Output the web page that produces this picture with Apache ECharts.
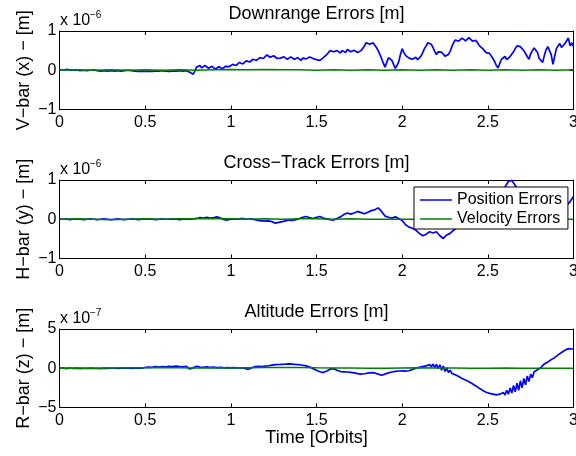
<!DOCTYPE html>
<html>
<head>
<meta charset="utf-8">
<script src="https://cdn.jsdelivr.net/npm/echarts@6/dist/echarts.min.js"></script>
<style>
  html, body { margin: 0; padding: 0; background: #ffffff; }
  #chart { width: 576px; height: 456px; }
</style>
</head>
<body>
<div id="chart"></div>
<script>
// Sampling intervals (orbits) of the stored error histories
const DOWNRANGE_STEP = 0.01;
const CROSSTRACK_STEP = 0.02;
const ALTITUDE_STEP = 0.01;
const VEL_STEP = 0.1;

// Downrange (V-bar, x) position errors, units of 1e-6 m
const downrangePos = [
  0.01, 0.00, 0.00, 0.01, 0.02, 0.00, 0.01, 0.00, 0.00, 0.01,
  0.01, 0.00, -0.01, 0.00, 0.00, -0.01, -0.01, 0.00, 0.00, 0.01,
  0.01, 0.00, -0.01, -0.02, -0.02, -0.01, -0.01, -0.02, -0.02, -0.01,
  -0.01, -0.02, -0.02, -0.01, -0.01, -0.02, -0.02, -0.01, -0.01, 0.00,
  0.00, -0.01, -0.01, -0.02, -0.02, -0.03, -0.03, -0.02, -0.02, -0.03,
  -0.03, -0.02, -0.02, -0.03, -0.03, -0.02, -0.02, -0.03, -0.02, -0.01,
  -0.01, -0.02, -0.02, -0.03, -0.03, -0.02, -0.02, -0.01, -0.02, -0.02,
  -0.01, -0.02, -0.02, -0.01, -0.01, -0.03, -0.05, -0.08, -0.10, -0.02,
  0.08, 0.13, 0.12, 0.06, 0.07, 0.12, 0.11, 0.05, 0.06, 0.10,
  0.09, 0.03, 0.04, 0.09, 0.08, 0.04, 0.06, 0.10, 0.12, 0.09,
  0.10, 0.15, 0.17, 0.12, 0.14, 0.20, 0.20, 0.16, 0.19, 0.24,
  0.26, 0.21, 0.23, 0.28, 0.29, 0.25, 0.27, 0.32, 0.33, 0.30,
  0.35, 0.39, 0.38, 0.33, 0.34, 0.37, 0.33, 0.30, 0.35, 0.31,
  0.30, 0.34, 0.33, 0.28, 0.29, 0.34, 0.33, 0.28, 0.30, 0.32,
  0.27, 0.25, 0.31, 0.33, 0.29, 0.26, 0.34, 0.32, 0.30, 0.26,
  0.27, 0.30, 0.25, 0.23, 0.32, 0.36, 0.40, 0.45, 0.50, 0.52,
  0.47, 0.43, 0.50, 0.46, 0.44, 0.50, 0.49, 0.45, 0.53, 0.51,
  0.47, 0.52, 0.51, 0.46, 0.45, 0.50, 0.50, 0.55, 0.62, 0.70,
  0.72, 0.66, 0.68, 0.70, 0.64, 0.58, 0.50, 0.40, 0.30, 0.18,
  0.08, 0.20, 0.32, 0.27, 0.25, 0.15, 0.05, 0.12, 0.22, 0.40,
  0.55, 0.45, 0.38, 0.33, 0.31, 0.35, 0.28, 0.32, 0.33, 0.27,
  0.25, 0.36, 0.45, 0.55, 0.62, 0.70, 0.74, 0.66, 0.58, 0.48,
  0.40, 0.47, 0.52, 0.46, 0.42, 0.36, 0.33, 0.40, 0.48, 0.60,
  0.70, 0.77, 0.80, 0.74, 0.76, 0.82, 0.82, 0.75, 0.78, 0.83,
  0.80, 0.74, 0.72, 0.76, 0.70, 0.63, 0.58, 0.55, 0.52, 0.45,
  0.40, 0.43, 0.36, 0.30, 0.22, 0.12, 0.06, 0.18, 0.28, 0.33,
  0.35, 0.27, 0.28, 0.35, 0.38, 0.47, 0.55, 0.62, 0.66, 0.60,
  0.58, 0.50, 0.45, 0.35, 0.28, 0.42, 0.50, 0.57, 0.62, 0.45,
  0.30, 0.25, 0.20, 0.38, 0.52, 0.60, 0.64, 0.40, 0.15, 0.35,
  0.55, 0.62, 0.68, 0.58, 0.55, 0.68, 0.75, 0.82, 0.62, 0.70,
  0.60
];
// Downrange velocity errors, units of 1e-6
const downrangeVel = [
  0.00, 0.01, 0.00, 0.01, 0.00, 0.01, 0.00, 0.01, 0.00, 0.01,
  0.02, 0.01, 0.02, 0.01, 0.01, 0.00, 0.01, 0.00, 0.01, 0.00,
  0.01, 0.00, 0.01, 0.00, 0.01, 0.00, 0.01, 0.00, 0.01, 0.00,
  0.01
];

// Cross-track (H-bar, y) position errors, units of 1e-6 m
const crossTrackPos = [
  0.01, 0.00, 0.01, -0.01, 0.00, 0.01, 0.00, -0.01, 0.00, 0.01,
  0.00, -0.01, 0.00, 0.01, 0.00, -0.01, 0.00, 0.01, 0.00, -0.01,
  0.00, 0.01, 0.00, -0.01, 0.00, 0.00, 0.01, 0.00, -0.01, 0.00,
  0.01, 0.00, 0.00, 0.01, 0.00, -0.01, 0.00, 0.01, 0.00, 0.01,
  0.02, 0.04, 0.03, 0.05, 0.03, 0.04, 0.06, 0.03, -0.01, -0.02,
  0.00, 0.01, 0.00, 0.02, 0.01, 0.00, 0.01, -0.01, -0.03, -0.04,
  -0.05, -0.04, -0.06, -0.10, -0.08, -0.06, -0.04, -0.02, -0.03, -0.01,
  0.02, 0.05, 0.07, 0.04, 0.02, 0.05, 0.07, 0.03, 0.01, -0.01,
  -0.02, 0.02, 0.06, 0.12, 0.16, 0.13, 0.16, 0.20, 0.17, 0.14,
  0.18, 0.22, 0.24, 0.29, 0.20, 0.08, 0.05, 0.03, 0.06, 0.02,
  -0.03, -0.14, -0.20, -0.23, -0.28, -0.36, -0.42, -0.38, -0.32, -0.35,
  -0.32, -0.42, -0.49, -0.40, -0.36, -0.28, -0.22, -0.15, -0.05, 0.05,
  0.12, 0.18, 0.25, 0.30, 0.35, 0.40, 0.45, 0.52, 0.60, 0.70,
  0.82, 0.96, 0.99, 0.86, 0.70, 0.60, 0.55, 0.50, 0.45, 0.42,
  0.40, 0.38, 0.36, 0.34, 0.32, 0.30, 0.28, 0.30, 0.35, 0.45,
  0.58
];
// Cross-track velocity errors, units of 1e-6
const crossTrackVel = [
  0.00, 0.01, 0.00, -0.01, 0.00, 0.01, 0.00, 0.01, 0.01, 0.02,
  0.01, 0.00, 0.01, 0.00, 0.01, 0.01, 0.00, 0.01, 0.00, 0.00,
  0.00, 0.00, 0.00, 0.00, 0.00, 0.00, 0.00, 0.00, 0.00, 0.00,
  0.00
];

// Altitude (R-bar, z) position errors, units of 1e-7 m
const altitudePos = [
  0.00, 0.03, 0.05, -0.02, -0.05, 0.00, 0.03, 0.00, -0.03, 0.00,
  0.02, -0.02, -0.04, -0.02, 0.00, -0.02, -0.03, 0.00, 0.02, 0.01,
  -0.02, 0.00, 0.00, -0.02, -0.04, 0.00, 0.02, 0.00, -0.02, 0.00,
  0.03, 0.02, 0.00, -0.02, -0.03, 0.00, 0.02, 0.01, 0.00, 0.02,
  0.03, 0.00, -0.02, 0.00, 0.02, 0.04, 0.05, 0.03, 0.02, 0.06,
  0.10, 0.13, 0.15, 0.13, 0.12, 0.16, 0.20, 0.18, 0.15, 0.19,
  0.22, 0.20, 0.18, 0.22, 0.25, 0.23, 0.20, 0.24, 0.26, 0.24,
  0.22, 0.20, 0.18, 0.21, 0.24, 0.10, -0.10, -0.02, 0.05, 0.15,
  0.25, 0.20, 0.15, 0.13, 0.12, 0.15, 0.18, 0.14, 0.10, 0.12,
  0.14, 0.11, 0.08, 0.10, 0.12, 0.09, 0.05, 0.07, 0.08, 0.06,
  0.04, 0.06, 0.08, 0.05, 0.03, 0.05, 0.06, 0.03, 0.00, -0.08,
  -0.15, -0.05, 0.05, 0.12, 0.20, 0.23, 0.25, 0.24, 0.22, 0.25,
  0.28, 0.30, 0.32, 0.36, 0.40, 0.43, 0.45, 0.47, 0.48, 0.49,
  0.50, 0.51, 0.52, 0.54, 0.55, 0.54, 0.52, 0.50, 0.48, 0.47,
  0.45, 0.42, 0.38, 0.34, 0.30, 0.22, 0.15, 0.05, -0.05, -0.15,
  -0.25, -0.35, -0.45, -0.50, -0.55, -0.45, -0.35, -0.22, -0.12, -0.08,
  -0.05, -0.15, -0.25, -0.35, -0.42, -0.44, -0.45, -0.47, -0.48, -0.50,
  -0.52, -0.56, -0.60, -0.64, -0.68, -0.72, -0.75, -0.73, -0.70, -0.66,
  -0.62, -0.58, -0.56, -0.57, -0.60, -0.68, -0.75, -0.83, -0.90, -0.82,
  -0.75, -0.66, -0.58, -0.52, -0.48, -0.44, -0.40, -0.37, -0.35, -0.34,
  -0.33, -0.35, -0.36, -0.34, -0.32, -0.24, -0.15, -0.06, 0.02, 0.07,
  0.12, 0.17, 0.22, 0.26, 0.30, 0.36, 0.48, 0.20, 0.52, 0.12,
  0.50, -0.05, 0.45, -0.25, 0.30, -0.40, 0.05, -0.55, -0.25, -0.65,
  -0.75, -0.82, -0.95, -1.05, -1.20, -1.30, -1.40, -1.50, -1.60, -1.72,
  -1.85, -1.97, -2.10, -2.25, -2.40, -2.55, -2.70, -2.82, -2.95, -3.05,
  -3.15, -3.20, -3.25, -3.30, -3.35, -3.40, -3.45, -3.30, -3.50, -3.10,
  -3.40, -2.80, -3.30, -2.50, -3.15, -2.20, -3.00, -1.90, -2.80, -1.60,
  -2.50, -1.30, -2.10, -1.00, -1.70, -0.75, -1.20, -0.45, -0.70, -0.20,
  -0.20, 0.10, 0.35, 0.55, 0.70, 0.80, 0.95, 1.10, 1.20, 1.35,
  1.55, 1.70, 1.85, 2.00, 2.15, 2.30, 2.40, 2.50, 2.55, 2.45,
  2.45
];
// Altitude velocity errors, units of 1e-7
const altitudeVel = [
  0.00, 0.02, 0.00, 0.03, 0.05, 0.05, 0.08, 0.05, 0.03, 0.05,
  0.04, 0.06, 0.08, 0.10, 0.08, 0.05, 0.03, 0.02, 0.00, 0.00,
  0.02, 0.05, 0.03, 0.02, 0.00, 0.00, 0.02, 0.00, 0.00, 0.00,
  0.00
];

const seriesNames = ['Position Errors', 'Velocity Errors'];
const seriesColors = ['#0000ff', '#008000'];

const panels = [
  { title: 'Downrange Errors [m]', yName: 'V\u2212bar (x) \u2212 [m]', exponent: '\u22126', yLimit: 1, yStep: 1,
    pos: downrangePos, posStep: DOWNRANGE_STEP, vel: downrangeVel },
  { title: 'Cross\u2212Track Errors [m]', yName: 'H\u2212bar (y) \u2212 [m]', exponent: '\u22126', yLimit: 1, yStep: 1,
    pos: crossTrackPos, posStep: CROSSTRACK_STEP, vel: crossTrackVel },
  { title: 'Altitude Errors [m]', yName: 'R\u2212bar (z) \u2212 [m]', exponent: '\u22127', yLimit: 5, yStep: 5,
    pos: altitudePos, posStep: ALTITUDE_STEP, vel: altitudeVel }
];

// Subplot geometry
const FONT = '"Liberation Sans", Arial, Helvetica, sans-serif';
const plotLeft = 59.5;
const plotWidth = 514;
const plotTops = [31, 180, 329];
const plotHeight = 78.5;

const toPairs = (arr, step) => arr.map((v, i) => [+(i * step).toFixed(4), v]);
const minusFmt = v => String(v).replace('-', '\u2212');

const grids = [], xAxes = [], yAxes = [], series = [], graphics = [];

panels.forEach((p, k) => {
  const top = plotTops[k];
  grids.push({
    left: plotLeft, top: top, width: plotWidth, height: plotHeight,
    containLabel: false, outerBoundsMode: 'none'
  });

  const axisLine = { show: true, onZero: false, lineStyle: { color: '#000', width: 1 } };
  const axisTick = { show: true, inside: true, length: 4, lineStyle: { color: '#000', width: 1 } };

  // bottom x axis with labels, top mirror with ticks only
  xAxes.push({
    type: 'value', gridIndex: k, min: 0, max: 3, interval: 0.5, position: 'bottom',
    axisLine, axisTick, splitLine: { show: false },
    axisLabel: { show: true, color: '#000', fontSize: 16, fontFamily: FONT, margin: 5, hideOverlap: false },
    name: k === 2 ? 'Time [Orbits]' : '', nameLocation: 'middle', nameGap: 22, nameMoveOverlap: false,
    nameTextStyle: { color: '#000', fontSize: 18, fontFamily: FONT }
  });
  xAxes.push({
    type: 'value', gridIndex: k, min: 0, max: 3, interval: 0.5, position: 'top',
    axisLine, axisTick, splitLine: { show: false }, axisLabel: { show: false }
  });

  yAxes.push({
    type: 'value', gridIndex: k, min: -p.yLimit, max: p.yLimit, interval: p.yStep, position: 'left',
    axisLine, axisTick, splitLine: { show: false },
    axisLabel: { show: true, color: '#000', fontSize: 16, fontFamily: FONT, margin: 3, formatter: minusFmt },
    name: p.yName, nameLocation: 'middle', nameGap: 26, nameMoveOverlap: false,
    nameTextStyle: { color: '#000', fontSize: 18, fontFamily: FONT }
  });
  yAxes.push({
    type: 'value', gridIndex: k, min: -p.yLimit, max: p.yLimit, interval: p.yStep, position: 'right',
    axisLine, axisTick, splitLine: { show: false }, axisLabel: { show: false }
  });

  series.push({
    name: seriesNames[0], type: 'line', xAxisIndex: 2 * k, yAxisIndex: 2 * k,
    data: toPairs(p.pos, p.posStep), showSymbol: false, symbol: 'none',
    lineStyle: { color: seriesColors[0], width: 1.7 }, itemStyle: { color: seriesColors[0] },
    clip: true, animation: false
  });
  series.push({
    name: seriesNames[1], type: 'line', xAxisIndex: 2 * k, yAxisIndex: 2 * k,
    data: toPairs(p.vel, VEL_STEP), showSymbol: false, symbol: 'none',
    lineStyle: { color: seriesColors[1], width: 1.5 }, itemStyle: { color: seriesColors[1] },
    clip: true, animation: false
  });

  // subplot title, centred over the axes box
  graphics.push({
    type: 'text', x: plotLeft + plotWidth / 2, y: top - 17,
    style: { text: p.title, fill: '#000', font: '18px ' + FONT, align: 'center', verticalAlign: 'middle' }
  });

  // axis multiplier "x 10^n" above the top-left corner
  graphics.push({
    type: 'text', x: 60, y: top - 10,
    style: { text: 'x 10', fill: '#000', font: '16px ' + FONT, align: 'left', verticalAlign: 'middle' }
  });
  graphics.push({
    type: 'text', x: 90, y: top - 16,
    style: { text: p.exponent, fill: '#000', font: '10px ' + FONT, align: 'left', verticalAlign: 'middle' }
  });
});

const chart = echarts.init(document.getElementById('chart'), null, { renderer: 'canvas' });
chart.setOption({
  animation: false,
  backgroundColor: '#ffffff',
  grid: grids,
  xAxis: xAxes,
  yAxis: yAxes,
  series: series,
  graphic: graphics,
  legend: {
    data: seriesNames, orient: 'vertical', left: 414, top: 187,
    backgroundColor: '#ffffff', borderColor: '#000', borderWidth: 1, borderRadius: 0,
    padding: [5, 6, 2, 6], itemGap: 3, itemWidth: 32, itemHeight: 1.5, icon: 'rect',
    textStyle: { color: '#000', fontSize: 16, fontFamily: FONT },
    selectedMode: false
  }
});
</script>
</body>
</html>
